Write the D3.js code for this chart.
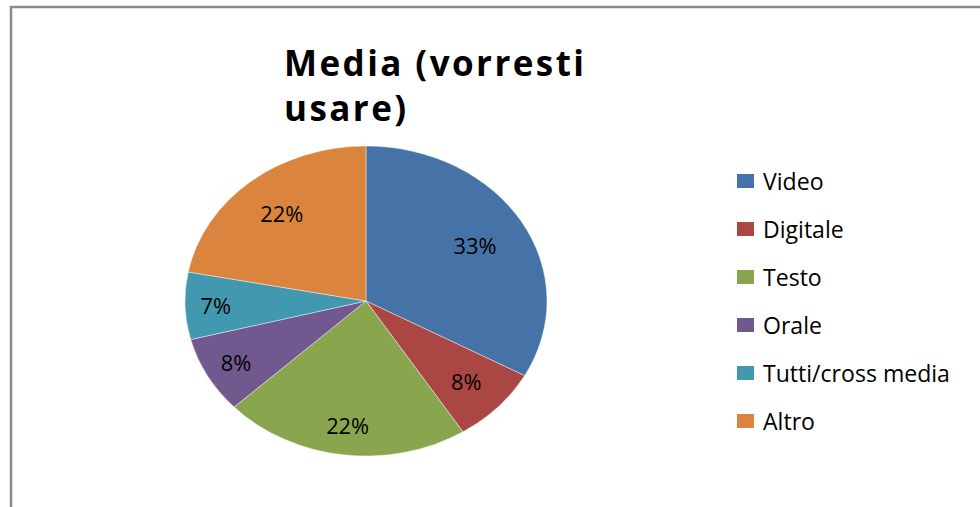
<!DOCTYPE html>
<html>
<head>
<meta charset="utf-8">
<script src="https://cdn.jsdelivr.net/npm/d3@7"></script>
<style>
  html, body { margin: 0; padding: 0; background: #fff; }
  svg { display: block; }
  text { font-family: "Open Sans", Lato, sans-serif; fill: #000; }
</style>
</head>
<body>
<svg id="chart" width="980" height="507"></svg>
<script>
// ---- data ----
const categories = ["Video", "Digitale", "Testo", "Orale", "Tutti/cross media", "Altro"];
const values = [33, 8, 22, 8, 7, 22];
const labels = ["33%", "8%", "22%", "8%", "7%", "22%"];
const colors = ["#4572A7", "#AA4643", "#89A54E", "#71588F", "#4198AF", "#DB843D"];
const titleLines = ["Media (vorresti", "usare)"];

// ---- layout ----
const W = 980, H = 507;
const cx = 366, cy = 301, rx = 181, ry = 155;
const labelR = [0.70, 0.76, 0.81, 0.82, 0.83, 0.73];

const svg = d3.select("#chart");

function textWidth(str, size, weight) {
  const p = svg.append("text").style("font-size", size + "px")
    .style("font-weight", weight || "normal").text(str);
  const w = p.node().getComputedTextLength();
  p.remove();
  return w;
}
function fitSize(str, target, base, weight) {
  return base * target / textWidth(str, base, weight);
}

// frame
svg.append("rect")
  .attr("x", 11).attr("y", 7)
  .attr("width", W + 10).attr("height", H + 10)
  .attr("fill", "#fff").attr("stroke", "#8a8a8a").attr("stroke-width", 2.5);

// title (slightly letter-spaced to the reference width)
const tsize = 35;
const tw = textWidth(titleLines[0], tsize, "bold");
const ls = Math.max(0, (300 - tw) / (titleLines[0].length - 1));
const title = svg.append("text").attr("x", 284).attr("y", 76)
  .style("font-weight", "bold").style("font-size", tsize + "px")
  .style("letter-spacing", ls + "px");
title.selectAll("tspan").data(titleLines).join("tspan")
  .attr("x", 284).attr("dy", (d, i) => i === 0 ? 0 : 45)
  .text(d => d);

// pie
const pie = d3.pie().sort(null).value(d => d);
const arcs = pie(values);
const arc = d3.arc().innerRadius(0).outerRadius(ry);
const sx = rx / ry;

const g = svg.append("g").attr("transform", `translate(${cx},${cy})`);
g.append("g").attr("transform", `scale(${sx},1)`)
  .selectAll("path").data(arcs).join("path")
  .attr("d", arc)
  .attr("fill", (d, i) => colors[i])
  .attr("stroke", "#fff").attr("stroke-width", 0.4);

const lsize = fitSize("33%", 43, 20);
g.selectAll("text").data(arcs).join("text")
  .attr("x", (d, i) => {
    const a = (d.startAngle + d.endAngle) / 2;
    return Math.sin(a) * labelR[i] * rx;
  })
  .attr("y", (d, i) => {
    const a = (d.startAngle + d.endAngle) / 2;
    return -Math.cos(a) * labelR[i] * ry;
  })
  .attr("text-anchor", "middle")
  .attr("dominant-baseline", "central")
  .style("font-size", lsize + "px")
  .text((d, i) => labels[i]);

// legend
const gsize = fitSize("Tutti/cross media", 187, 20);
const legend = svg.append("g").attr("transform", "translate(737,174)");
const item = legend.selectAll("g").data(categories).join("g")
  .attr("transform", (d, i) => `translate(0,${i * 48})`);
item.append("rect").attr("width", 17).attr("height", 14)
  .attr("fill", (d, i) => colors[i]);
item.append("text").attr("x", 26).attr("y", 7)
  .attr("dominant-baseline", "central")
  .style("font-size", gsize + "px")
  .text(d => d);
</script>
</body>
</html>
